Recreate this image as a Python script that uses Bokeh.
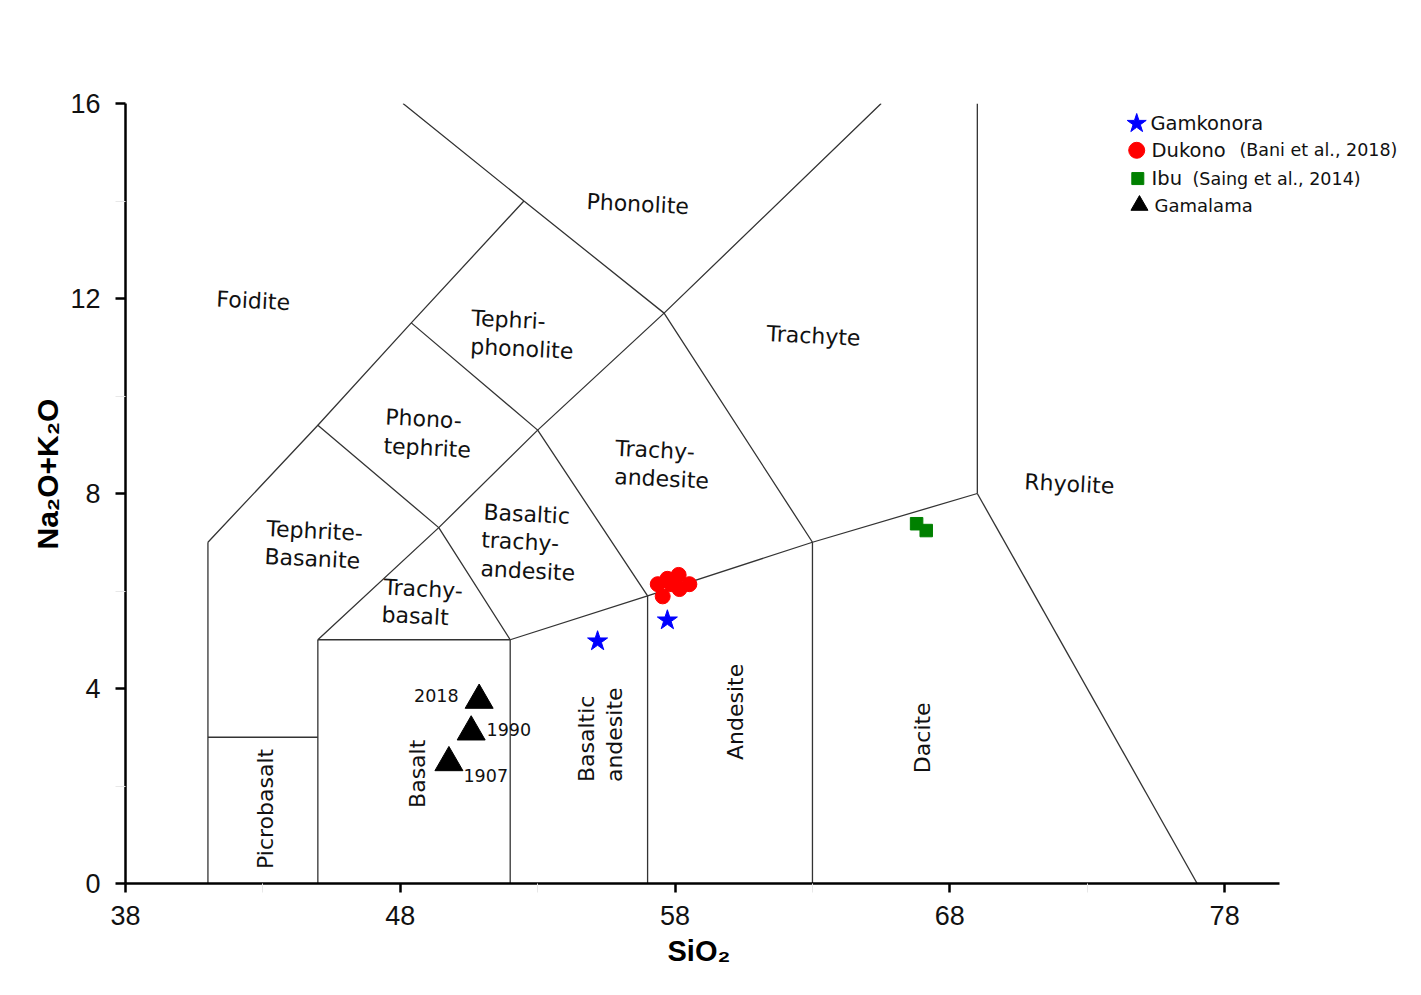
import math
from bokeh.plotting import figure
from bokeh.models import Range1d, FixedTicker, ColumnDataSource, Title
from bokeh.core.properties import value
from bokeh.embed import file_html
from bokeh.resources import INLINE

# ---------------- data ----------------
x_ticks = [38, 48, 58, 68, 78]
x_minor = [43, 53, 63, 73]
y_ticks = [0, 4, 8, 12, 16]
y_minor = [2, 6, 10, 14]

# TAS field boundaries (SiO2, Na2O+K2O) as polylines
boundary_x = [
    [41, 41], [41, 45], [45, 45], [45, 52], [52, 52],
    [52, 57, 63, 69], [69, 77], [57, 57], [63, 63], [69, 69],
    [63, 57.6, 65.5], [57, 53, 48.4], [52, 49.4, 45, 41],
    [45, 49.4, 53, 57.6], [45, 48.4, 52.5], [48.1, 52.5, 57.6],
]
boundary_y = [
    [0, 7], [3, 3], [0, 5], [5, 5], [0, 5],
    [5, 5.9, 7, 8], [8, 0], [0, 5.9], [0, 7], [8, 16],
    [7, 11.7, 16], [5.9, 9.3, 11.5], [5, 7.3, 9.4, 7],
    [5, 7.3, 9.3, 11.7], [9.4, 11.5, 14], [16, 14, 11.7],
]

# field names (horizontal, left-aligned lines)
field_h_text = ["Phonolite", "Foidite", "Trachyte", "Rhyolite",
                "Tephri-", "phonolite", "Phono-", "tephrite",
                "Trachy-", "andesite", "Tephrite-", "Basanite",
                "Basaltic", "trachy-", "andesite", "Trachy-", "basalt"]
field_h_x = [54.78, 41.31, 61.33, 70.71,
             50.59, 50.55, 47.46, 47.39,
             55.83, 55.79, 43.13, 43.06,
             51.03, 50.95, 50.92, 47.39, 47.32]
field_h_y = [13.99, 11.99, 11.28, 8.24,
             11.60, 11.02, 9.57, 8.98,
             8.93, 8.35, 7.28, 6.71,
             7.62, 7.05, 6.46, 6.08, 5.52]

# field names (vertical, centred)
field_v_text = ["Picrobasalt", "Basalt", "Andesite", "Dacite"]
field_v_x = [43.09, 48.63, 60.20, 67.00]
field_v_y = [1.53, 2.25, 3.52, 2.99]

# field names (vertical, bottom-aligned)
field_vb_text = ["Basaltic", "andesite"]
field_vb_x = [54.78, 55.80]
field_vb_y = [2.08, 2.08]

# samples
gamkonora_x = [55.18, 57.72]
gamkonora_y = [4.97, 5.40]

dukono_x = [57.37, 57.55, 57.72, 57.86, 58.16, 58.13, 58.52]
dukono_y = [6.14, 5.89, 6.25, 6.14, 6.04, 6.33, 6.14]

ibu_x = [66.79, 67.14]
ibu_y = [7.38, 7.24]

gamalama_x = [49.77, 50.58, 50.87]
gamalama_y = [2.48, 3.11, 3.76]
gamalama_years = ["1907", "1990", "2018"]
year_lbl_x = [50.30, 51.14, 50.12]
year_lbl_y = [2.21, 3.15, 3.85]
year_lbl_align = ["left", "left", "right"]

# legend (drawn inside the plot area, top right)
legend_names = ["Gamkonora", "Dukono", "Ibu", "Gamalama"]
legend_row_y = [15.59, 15.04, 14.46, 13.91]
legend_marker_x = [74.80, 74.80, 74.84, 74.90]
legend_text_x = [75.30, 75.34, 75.34, 75.45]
citations = ["(Bani et al., 2018)", "(Saing et al., 2014)"]
citation_x = [78.54, 76.83]
citation_row = [1, 2]

# ---------------- figure ----------------
p = figure(width=1405, height=983,
           x_range=Range1d(38, 84.40), y_range=Range1d(0, 16),
           output_backend="svg", toolbar_location=None,
           min_border_left=125, min_border_right=5,
           min_border_top=103, min_border_bottom=100)
p.xgrid.visible = False
p.ygrid.visible = False
p.outline_line_color = None
p.background_fill_color = "white"
p.border_fill_color = "white"

for ax, tk, mn, bd in ((p.xaxis[0], x_ticks, x_minor, (38, 80)),
                       (p.yaxis[0], y_ticks, y_minor, (0, 16))):
    ax.ticker = FixedTicker(ticks=tk, minor_ticks=mn)
    ax.bounds = bd
    ax.axis_line_width = 2.5
    ax.axis_line_color = "black"
    ax.major_tick_line_width = 2.5
    ax.major_tick_line_color = "black"
    ax.major_tick_in = 0
    ax.minor_tick_in = 0
    ax.minor_tick_line_color = "#e8e8e8"
    ax.minor_tick_line_width = 1
    ax.major_label_text_font = "Liberation Sans"
    ax.major_label_text_font_size = "27px"
    ax.major_label_text_color = "#111111"

p.xaxis.major_tick_out = 9
p.xaxis.minor_tick_out = 9
p.xaxis.major_label_standoff = 13
p.yaxis.major_tick_out = 10
p.yaxis.minor_tick_out = 10
p.yaxis.major_label_standoff = 15

# axis titles
p.add_layout(Title(text="SiO\u2082", align="left", offset=542, standoff=10,
                   text_font="Liberation Sans", text_font_style="bold",
                   text_font_size="29px", text_color="black"), "below")
p.add_layout(Title(text="Na\u2082O+K\u2082O", align="left", offset=334,
                   standoff=8, text_font="Liberation Sans",
                   text_font_style="bold", text_font_size="30px",
                   text_color="black"), "left")

# boundaries
p.multi_line(xs=boundary_x, ys=boundary_y, line_color="#333333", line_width=1.3)

tilt = -0.05
font = value("DejaVu Sans")
p.text(x=field_h_x, y=field_h_y, text=field_h_text, angle=tilt,
       text_font=font, text_font_size="22px", text_align="left",
       text_baseline="middle", text_color="#111111")
p.text(x=field_v_x, y=field_v_y, text=field_v_text, angle=math.pi / 2,
       text_font=font, text_font_size="22px", text_align="center",
       text_baseline="middle", text_color="#111111")
p.text(x=field_vb_x, y=field_vb_y, text=field_vb_text, angle=math.pi / 2,
       text_font=font, text_font_size="22px", text_align="left",
       text_baseline="middle", text_color="#111111")

# samples
p.scatter(gamkonora_x, gamkonora_y, marker="star", size=21,
          fill_color="#0000ff", line_color="#0000ff")
p.scatter(dukono_x, dukono_y, marker="circle", size=15,
          fill_color="#ff0000", line_color="#ff0000")
p.scatter(ibu_x, ibu_y, marker="square", size=12.5,
          fill_color="#008000", line_color="#008000")
p.scatter(gamalama_x, gamalama_y, marker="triangle", size=28,
          fill_color="black", line_color="black")

ysrc = ColumnDataSource(dict(x=year_lbl_x, y=year_lbl_y, t=gamalama_years,
                             a=year_lbl_align))
p.text(x="x", y="y", text="t", text_align="a", source=ysrc,
       text_font=font, text_font_size="17.5px", text_baseline="middle",
       text_color="#111111")

# legend
leg_markers = ["star", "circle", "square", "triangle"]
leg_sizes = [20, 16, 12, 17]
leg_colors = ["#0000ff", "#ff0000", "#008000", "black"]
for i in range(4):
    p.scatter([legend_marker_x[i]], [legend_row_y[i]], marker=leg_markers[i],
              size=leg_sizes[i], fill_color=leg_colors[i],
              line_color=leg_colors[i])
    p.text(x=[legend_text_x[i]], y=[legend_row_y[i]], text=[legend_names[i]],
           text_font=font, text_font_size="18px" if i == 3 else "19.5px",
           text_align="left", text_baseline="middle", text_color="#111111")
for t, cx, r in zip(citations, citation_x, citation_row):
    p.text(x=[cx], y=[legend_row_y[r]], text=[t], text_font=font,
           text_font_size="17.5px", text_align="left",
           text_baseline="middle", text_color="#111111")

open("out.html", "w").write(file_html(p, INLINE))
